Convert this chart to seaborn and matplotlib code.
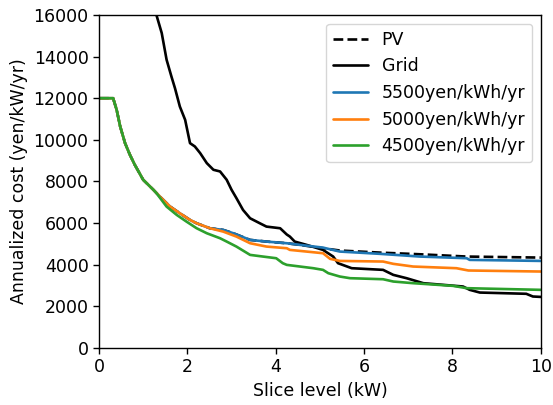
import numpy as np
import pandas as pd
import matplotlib.pyplot as plt
import seaborn as sns

# ---------------------------------------------------------------------------
# Data (slice level kW -> annualized cost)
# ---------------------------------------------------------------------------
grid_x = [1.20, 1.30, 1.42, 1.53, 1.64, 1.72, 1.83, 1.95, 2.06, 2.17, 2.29,
          2.44, 2.59, 2.74, 2.89, 3.00, 3.11, 3.26, 3.42, 3.64, 3.79, 4.10,
          4.25, 4.32, 4.43, 4.70, 5.07, 5.30, 5.41, 5.72, 6.43, 6.66, 6.96,
          7.34, 8.24, 8.39, 8.62, 9.67, 9.82, 10.0]
grid_y = [17500, 16000, 15130, 13850, 13040, 12480, 11600, 10960, 9840, 9680,
          9360, 8880, 8560, 8480, 8080, 7600, 7200, 6630, 6230, 5990, 5830,
          5750, 5450, 5350, 5110, 4950, 4710, 4390, 4070, 3830, 3750, 3510,
          3350, 3110, 2950, 2790, 2660, 2600, 2470, 2450]

c5500_x = [0.0, 0.32, 0.40, 0.48, 0.59, 0.70, 0.81, 1.00, 1.23, 1.38, 1.61,
           1.83, 2.06, 2.21, 2.51, 2.81, 3.04, 3.42, 3.79, 4.25, 4.55, 5.07,
           5.45, 6.36, 7.26, 8.32, 8.39, 10.0]
c5500_y = [12000, 12000, 11440, 10640, 9840, 9280, 8800, 8080, 7600, 7270,
           6790, 6470, 6150, 5990, 5750, 5670, 5510, 5190, 5110, 5030, 4950,
           4820, 4630, 4520, 4390, 4310, 4230, 4180]

c5000_x = [0.0, 0.32, 0.40, 0.48, 0.59, 0.70, 0.81, 1.00, 1.23, 1.38, 1.61,
           1.83, 2.06, 2.21, 2.51, 2.81, 3.11, 3.42, 3.79, 4.25, 4.32, 5.07,
           5.23, 5.45, 6.43, 6.66, 7.11, 8.09, 8.36, 10.0]
c5000_y = [12000, 12000, 11440, 10640, 9840, 9280, 8800, 8080, 7600, 7270,
           6790, 6470, 6150, 5990, 5750, 5590, 5350, 5030, 4870, 4790, 4710,
           4550, 4280, 4180, 4150, 4040, 3910, 3830, 3720, 3670]

c4500_x = [0.0, 0.32, 0.40, 0.48, 0.59, 0.70, 0.81, 1.00, 1.23, 1.30, 1.53,
           1.76, 1.98, 2.21, 2.44, 2.74, 2.89, 3.11, 3.42, 3.71, 4.01, 4.16,
           4.25, 4.85, 5.07, 5.19, 5.45, 5.68, 6.43, 6.66, 7.11, 8.02, 8.32,
           10.0]
c4500_y = [12000, 12000, 11440, 10640, 9840, 9280, 8800, 8080, 7600, 7440,
           6790, 6390, 6070, 5750, 5510, 5270, 5110, 4870, 4470, 4390, 4310,
           4070, 3990, 3830, 3750, 3590, 3430, 3350, 3300, 3190, 3110, 2980,
           2870, 2790]

pv_x = [0.0, 0.32, 0.40, 0.48, 0.59, 0.70, 0.81, 1.00, 1.23, 1.38, 1.61,
        1.83, 2.06, 2.21, 2.51, 2.81, 3.04, 3.42, 3.79, 4.25, 4.55, 5.07,
        5.45, 6.36, 7.26, 8.32, 10.0]
pv_y = [12000, 12000, 11440, 10640, 9840, 9280, 8800, 8080, 7600, 7270,
        6790, 6470, 6150, 5990, 5750, 5670, 5510, 5190, 5110, 5030, 4950,
        4790, 4680, 4580, 4500, 4390, 4340]

# ---------------------------------------------------------------------------
# Plot
# ---------------------------------------------------------------------------
sns.set_style("ticks")
plt.rcParams["font.family"] = ["DejaVu Sans"]
for key in ["text.color", "axes.labelcolor", "xtick.color", "ytick.color"]:
    plt.rcParams[key] = "black"
fs = 12.5

colors = sns.color_palette("tab10")

fig, ax = plt.subplots(figsize=(5.53, 4.05), dpi=100)
fig.subplots_adjust(left=0.179, right=0.978, top=0.963, bottom=0.141)

series = [
    ("PV", pv_x, pv_y, "black", "--"),
    ("Grid", grid_x, grid_y, "black", "-"),
    ("5500yen/kWh/yr", c5500_x, c5500_y, colors[0], "-"),
    ("5000yen/kWh/yr", c5000_x, c5000_y, colors[1], "-"),
    ("4500yen/kWh/yr", c4500_x, c4500_y, colors[2], "-"),
]

for label, xs, ys, color, ls in series:
    d = pd.DataFrame({"x": xs, "y": ys})
    sns.lineplot(data=d, x="x", y="y", ax=ax, color=color, linestyle=ls,
                 linewidth=1.9, label=label, estimator=None, sort=False)

ax.set_xlim(0, 10)
ax.set_ylim(0, 16000)
ax.set_xticks([0, 2, 4, 6, 8, 10])
ax.set_yticks(np.arange(0, 16001, 2000))
ax.set_xlabel("Slice level (kW)", fontsize=fs)
ax.set_ylabel("Annualized cost (yen/kW/yr)", fontsize=fs)
ax.tick_params(labelsize=fs, length=4, width=1, colors="black")
for s in ax.spines.values():
    s.set_linewidth(1.0)
    s.set_color("black")

ax.legend(loc="upper right", fontsize=fs, frameon=True, fancybox=True,
          framealpha=0.8, edgecolor="0.8", handlelength=2.0)

fig.savefig("out.png", dpi=100)
plt.close(fig)
